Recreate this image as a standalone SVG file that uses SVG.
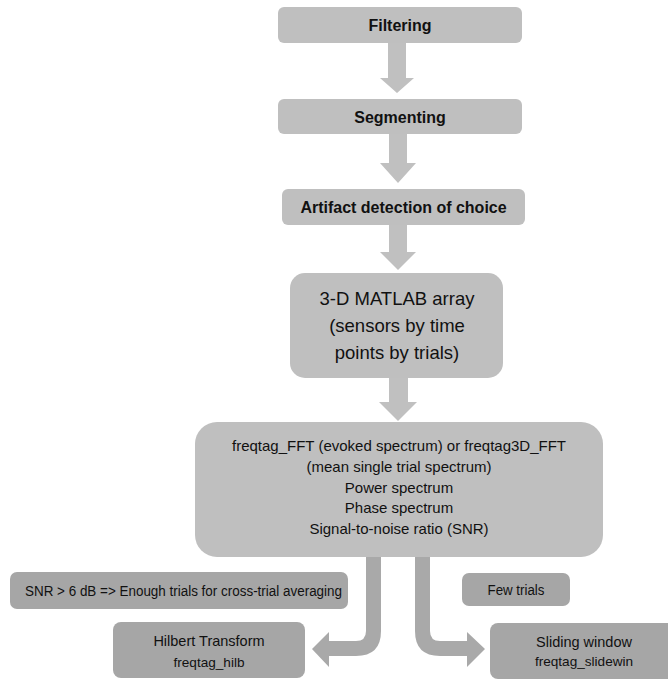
<svg xmlns="http://www.w3.org/2000/svg" width="668" height="679" viewBox="0 0 668 679">
<style>
.lt{fill:#bfbfbf}
.dk{fill:#a6a6a6}
.arl{fill:#c0c0c0}
.ard{fill:#a9a9a9}
text{font-family:"Liberation Sans",Arial,sans-serif;fill:#111;text-anchor:middle}
.b{font-weight:bold;font-size:16px}
.c{font-family:"Liberation Sans Narrow","Liberation Sans",Arial,sans-serif;font-size:14px}
.s{font-size:13.6px}
</style>
<rect width="668" height="679" fill="#fff"/>
<g id="connectors">
<path class="arl" d="M388,43 L406,43 L406,78 L414,78 L397,93 L380,78 L388,78 Z"/>
<path class="arl" d="M389,134 L407,134 L407,163 L416,163 L398,183 L380,163 L389,163 Z"/>
<path class="arl" d="M389,225 L407,225 L407,252 L416,252 L398,270 L380,252 L389,252 Z"/>
<path class="arl" d="M389,378 L408,378 L408,402 L417,402 L398,421 L379,402 L389,402 Z"/>
<path class="ard" d="M366,555 L366,631 Q366,641 356,641 L329,641 L329,632 L312,649 L329,667 L329,656 L356,656 Q381,656 381,631 L381,555 Z"/>
<path class="ard" d="M415,555 L415,631 Q415,656 440,656 L467,656 L467,667 L485,649 L467,632 L467,641 L440,641 Q430,641 430,631 L430,555 Z"/>
</g>
<g id="filtering"><rect class="lt" x="278" y="7" width="244" height="36" rx="6"/><text class="b" x="400" y="31">Filtering</text></g>
<g id="segmenting"><rect class="lt" x="278" y="99" width="244" height="35" rx="6"/><text class="b" x="400" y="122.5">Segmenting</text></g>
<g id="artifact"><rect class="lt" x="282" y="189" width="243" height="36" rx="6"/><text class="b" x="403.5" y="213">Artifact detection of choice</text></g>
<g id="array"><rect class="lt" x="290" y="273" width="213" height="105" rx="15"/>
<text x="397" y="305" font-size="18.5">3-D MATLAB array</text>
<text x="397" y="332" font-size="18.5">(sensors by time</text>
<text x="397" y="359" font-size="18.5">points by trials)</text></g>
<g id="fft"><rect class="lt" x="195" y="422" width="408" height="135" rx="22"/>
<text x="399" y="451" font-size="15">freqtag_FFT (evoked spectrum) or freqtag3D_FFT</text>
<text x="399" y="472" font-size="15">(mean single trial spectrum)</text>
<text x="399" y="492.5" font-size="15">Power spectrum</text>
<text x="399" y="513" font-size="15">Phase spectrum</text>
<text x="399" y="534" font-size="15">Signal-to-noise ratio (SNR)</text></g>
<g id="snr"><rect class="dk" x="10" y="572" width="338" height="37" rx="7"/><text class="c" x="183.5" y="596" textLength="317" lengthAdjust="spacingAndGlyphs">SNR &gt; 6 dB =&gt; Enough trials for cross-trial averaging</text></g>
<g id="few"><rect class="dk" x="462" y="573" width="108" height="33" rx="7"/><text class="c" x="516" y="595" textLength="57" lengthAdjust="spacingAndGlyphs">Few trials</text></g>
<g id="hilbert"><rect class="dk" x="113" y="622" width="192" height="56" rx="8"/>
<text x="209" y="646" font-size="14.5">Hilbert Transform</text>
<text class="s" x="209" y="667">freqtag_hilb</text></g>
<g id="sliding"><rect class="dk" x="490" y="623" width="190" height="56" rx="8"/>
<text x="584" y="647" font-size="14.5">Sliding window</text>
<text class="s" x="584" y="666">freqtag_slidewin</text></g>
</svg>
